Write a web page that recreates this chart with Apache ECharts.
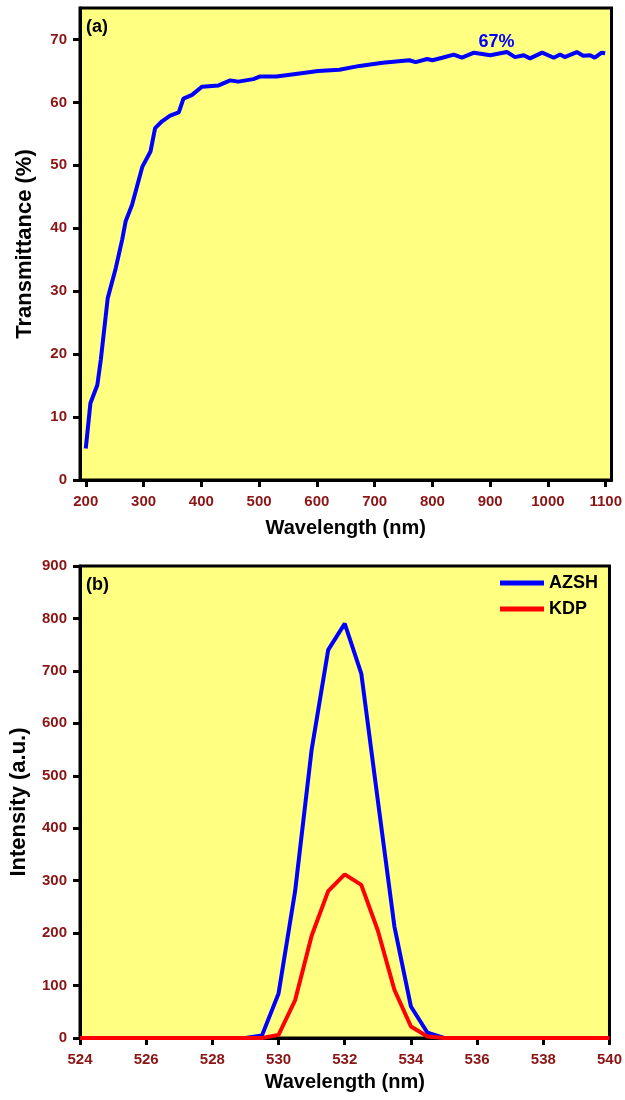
<!DOCTYPE html>
<html>
<head>
<meta charset="utf-8">
<script src="https://cdn.jsdelivr.net/npm/echarts@6/dist/echarts.min.js"></script>
<style>
  html, body { margin: 0; padding: 0; background: #fff; }
  #chart { width: 625px; height: 1100px; }
</style>
</head>
<body>
<div id="chart"></div>
<script>
// (a) transmittance spectrum
var wlA = [200, 208, 220, 226, 238, 252, 263, 269, 280, 298, 312, 320, 332, 346, 361, 369, 384, 401, 430, 450,
  464, 490, 501, 530, 570, 602, 639, 674, 714, 760, 771, 791, 800, 817, 837, 851, 872, 900, 929, 943,
  958, 969, 990, 1010, 1021, 1029, 1050, 1061, 1073, 1081, 1093, 1099]
var transA = [5.0, 12.2, 15.1, 19.1, 28.9, 33.7, 38.2, 41.1, 43.7, 49.8, 52.2, 55.9, 57.0, 57.9, 58.4, 60.6, 61.2, 62.5, 62.7, 63.5,
  63.3, 63.7, 64.1, 64.1, 64.6, 65.0, 65.2, 65.8, 66.3, 66.7, 66.4, 66.9, 66.7, 67.1, 67.6, 67.1, 67.9, 67.5, 68.0, 67.2,
  67.5, 67.0, 67.9, 67.1, 67.6, 67.2, 68.0, 67.4, 67.5, 67.1, 67.9, 67.8]
var xTicksA = [200, 300, 400, 500, 600, 700, 800, 900, 1000, 1100]
var yTicksA = [0, 10, 20, 30, 40, 50, 60, 70]

// (b) SHG intensity
var wlB = [524, 529, 529.5, 530, 530.5, 531, 531.5, 532, 532.5, 533, 533.5, 534, 534.5, 535, 540]
var azsh = [0, 0, 5, 85, 280, 550, 740, 790, 695, 453, 213, 60, 10, 0, 0]
var kdp = [0, 0, 0, 6, 72, 195, 280, 312, 292, 205, 92, 22, 3, 0, 0]

var FONT = "'Liberation Sans', Arial, sans-serif"
var labelRed = '#8B1414'
var plotBg = '#FFFF82'

function pairs(xs, ys) {
  return xs.map(function (x, i) { return [x, ys[i]] })
}
function plain(v) { return String(v) }

var tickLabel = { color: labelRed, fontWeight: 'bold', fontSize: 15, fontFamily: FONT, formatter: plain }
var axisLn = { show: true, lineStyle: { color: '#000', width: 3 } }
var tick = { show: true, inside: false, length: 7, lineStyle: { color: '#000', width: 3 } }
var nameX = { color: '#000', fontWeight: 'bold', fontSize: 20, fontFamily: FONT }
var nameY = { color: '#000', fontWeight: 'bold', fontSize: 22, fontFamily: FONT }

var chart = echarts.init(document.getElementById('chart'), null, { renderer: 'canvas' })
var option = {
  backgroundColor: '#fff',
  animation: false,
  title: [
    { text: '(a)', left: 86, top: 18, padding: 0, textStyle: { fontSize: 18, fontWeight: 'bold', color: '#000', fontFamily: FONT } },
    { text: '(b)', left: 86, top: 576, padding: 0, textStyle: { fontSize: 18, fontWeight: 'bold', color: '#000', fontFamily: FONT } }
  ],
  legend: {
    data: ['AZSH', 'KDP'],
    orient: 'vertical',
    right: 22,
    top: 569,
    icon: 'rect',
    itemWidth: 44,
    itemHeight: 5,
    itemGap: 8,
    textStyle: { color: '#000', fontWeight: 'bold', fontSize: 18, fontFamily: FONT }
  },
  grid: [
    { left: 80, top: 8, width: 533, height: 472, show: true, backgroundColor: plotBg, borderColor: '#000', borderWidth: 3 },
    { left: 80, top: 566, width: 533, height: 472, show: true, backgroundColor: plotBg, borderColor: '#000', borderWidth: 3 }
  ],
  xAxis: [
    {
      gridIndex: 0, type: 'value', min: 190, max: 1110,
      name: 'Wavelength (nm)', nameLocation: 'middle', nameGap: 38, nameTextStyle: nameX,
      axisLine: axisLn,
      axisTick: Object.assign({ customValues: xTicksA }, tick),
      axisLabel: Object.assign({ customValues: xTicksA, margin: 14 }, tickLabel),
      splitLine: { show: false }
    },
    {
      gridIndex: 1, type: 'value', min: 524, max: 540, interval: 2,
      name: 'Wavelength (nm)', nameLocation: 'middle', nameGap: 34, nameTextStyle: nameX,
      axisLine: axisLn, axisTick: tick,
      axisLabel: Object.assign({ margin: 14 }, tickLabel),
      splitLine: { show: false }
    }
  ],
  yAxis: [
    {
      gridIndex: 0, type: 'value', min: 0, max: 75,
      name: 'Transmittance (%)', nameLocation: 'middle', nameGap: 44, nameTextStyle: nameY,
      axisLine: axisLn,
      axisTick: Object.assign({ customValues: yTicksA }, tick),
      axisLabel: Object.assign({ customValues: yTicksA, margin: 13 }, tickLabel),
      splitLine: { show: false }
    },
    {
      gridIndex: 1, type: 'value', min: 0, max: 900, interval: 100,
      name: 'Intensity (a.u.)', nameLocation: 'middle', nameGap: 50, nameTextStyle: nameY,
      axisLine: axisLn, axisTick: tick,
      axisLabel: Object.assign({ margin: 13 }, tickLabel),
      splitLine: { show: false }
    }
  ],
  series: [
    {
      name: 'Transmittance', type: 'line', xAxisIndex: 0, yAxisIndex: 0,
      data: pairs(wlA, transA), showSymbol: false,
      lineStyle: { color: '#0000FF', width: 4 }, itemStyle: { color: '#0000FF' },
      markPoint: {
        symbol: 'circle', symbolSize: 1,
        itemStyle: { color: 'rgba(0,0,0,0)' },
        label: { show: true, position: 'inside', formatter: '67%', color: '#0000FF', fontWeight: 'bold', fontSize: 18, fontFamily: FONT },
        data: [{ coord: [911, 69.6] }]
      }
    },
    {
      name: 'AZSH', type: 'line', xAxisIndex: 1, yAxisIndex: 1,
      data: pairs(wlB, azsh), showSymbol: false,
      lineStyle: { color: '#0000FF', width: 4 }, itemStyle: { color: '#0000FF' }
    },
    {
      name: 'KDP', type: 'line', xAxisIndex: 1, yAxisIndex: 1,
      data: pairs(wlB, kdp), showSymbol: false,
      lineStyle: { color: '#FF0000', width: 4 }, itemStyle: { color: '#FF0000' }
    }
  ]
}
chart.setOption(option)
</script>
</body>
</html>
